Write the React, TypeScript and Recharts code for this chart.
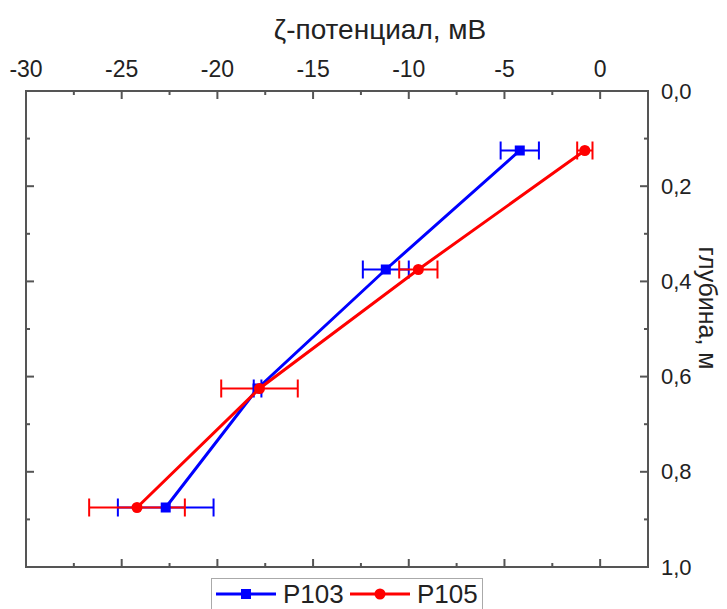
import React from 'react';
import { ScatterChart, Scatter, XAxis, YAxis, ErrorBar, ReferenceArea } from 'recharts';

// depth, m
const depths = [0.125, 0.375, 0.625, 0.875];

// zeta potential, mV
const p103Values = [-4.2, -11.2, -17.9, -22.7];
const p103Errors = [1.0, 1.2, 0.2, 2.5];
const p105Values = [-0.8, -9.5, -17.8, -24.2];
const p105Errors = [0.4, 1.0, 2.0, 2.5];

const seriesNames = ['P103', 'P105'];
const seriesColors = ['#0000ff', '#ff0000'];

const xTicks = [-30, -27.5, -25, -22.5, -20, -17.5, -15, -12.5, -10, -7.5, -5, -2.5, 0, 2.5];
const yTicks = [0, 0.1, 0.2, 0.3, 0.4, 0.5, 0.6, 0.7, 0.8, 0.9, 1.0];

const xTitle = 'ζ-потенциал, мВ';
const yTitle = 'глубина, м';

const W = 719;
const H = 601;
const PL = 18;
const PT = 83;
const PR = 640;
const PB = 559;
const FONT = '"Liberation Sans", Arial, sans-serif';
const FRAME = '#555';

const p103Data = depths.map((d, i) => ({ x: p103Values[i], y: d, err: p103Errors[i] }));
const p105Data = depths.map((d, i) => ({ x: p105Values[i], y: d, err: p105Errors[i] }));

const XTick = (props: any) => {
  const { x, payload } = props;
  const v = payload.value;
  const major = Math.abs(v % 5) < 1e-6;
  const len = major ? 8 : 4;
  return (
    <g>
      <line x1={x} x2={x} y1={PT} y2={PT + len} stroke={FRAME} strokeWidth={2} />
      <line x1={x} x2={x} y1={PB} y2={PB - len} stroke={FRAME} strokeWidth={2} />
      {major && (
        <text x={x} y={61} textAnchor="middle" dominantBaseline="central" fontSize={23} fontFamily={FONT} fill="#222">
          {v}
        </text>
      )}
    </g>
  );
};

const YTick = (props: any) => {
  const { y, payload } = props;
  const v = payload.value;
  const major = Math.round(v * 10) % 2 === 0;
  const len = major ? 8 : 4;
  return (
    <g>
      <line x1={PR} x2={PR - len} y1={y} y2={y} stroke={FRAME} strokeWidth={2} />
      <line x1={PL} x2={PL + len} y1={y} y2={y} stroke={FRAME} strokeWidth={2} />
      {major && (
        <text x={653} y={y} textAnchor="start" dominantBaseline="central" fontSize={22} fontFamily={FONT} fill="#222">
          {v.toFixed(1).replace('.', ',')}
        </text>
      )}
    </g>
  );
};

const Square = (props: any) => (
  <rect x={props.cx - 5} y={props.cy - 5} width={10} height={10} fill={seriesColors[0]} />
);

const Dot = (props: any) => <circle cx={props.cx} cy={props.cy} r={5.5} fill={seriesColors[1]} />;

const LegendBox = () => (
  <div
    style={{
      position: 'absolute',
      left: 203,
      top: 570,
      width: 272,
      height: 44,
      border: '1px solid #aaa',
      boxSizing: 'border-box',
      background: '#fff',
    }}
  >
    <svg width={270} height={42}>
      <line x1={4} x2={64} y1={15} y2={15} stroke={seriesColors[0]} strokeWidth={3} />
      <rect x={29} y={10} width={10} height={10} fill={seriesColors[0]} />
      <text x={71} y={15} dominantBaseline="central" fontSize={26} fontFamily={FONT} fill="#222">
        {seriesNames[0]}
      </text>
      <line x1={138} x2={198} y1={15} y2={15} stroke={seriesColors[1]} strokeWidth={3} />
      <circle cx={168} cy={15} r={5.5} fill={seriesColors[1]} />
      <text x={205} y={15} dominantBaseline="central" fontSize={26} fontFamily={FONT} fill="#222">
        {seriesNames[1]}
      </text>
    </svg>
  </div>
);

export default function App() {
  return (
    <div style={{ position: 'relative', width: W, height: H, overflow: 'visible', fontFamily: FONT }}>
      <ScatterChart width={W} height={H} margin={{ top: 33, right: 19, bottom: 42, left: 18 }}>
        <XAxis
          type="number"
          dataKey="x"
          orientation="top"
          height={50}
          domain={[-30, 2.5]}
          allowDataOverflow
          ticks={xTicks}
          interval={0}
          axisLine={false}
          tickLine={false}
          tick={<XTick />}
        />
        <YAxis
          type="number"
          dataKey="y"
          orientation="right"
          width={60}
          domain={[0, 1]}
          reversed
          allowDataOverflow
          ticks={yTicks}
          interval={0}
          axisLine={false}
          tickLine={false}
          tick={<YTick />}
        />
        <ReferenceArea x1={-30} x2={2.5} y1={0} y2={1} fill="none" stroke={FRAME} strokeWidth={2} />
        <Scatter
          name={seriesNames[0]}
          data={p103Data}
          fill={seriesColors[0]}
          line={{ stroke: seriesColors[0], strokeWidth: 3 }}
          shape={Square}
          isAnimationActive={false}
        >
          <ErrorBar dataKey="err" direction="x" width={9} stroke={seriesColors[0]} strokeWidth={2} />
        </Scatter>
        <Scatter
          name={seriesNames[1]}
          data={p105Data}
          fill={seriesColors[1]}
          line={{ stroke: seriesColors[1], strokeWidth: 3 }}
          shape={Dot}
          isAnimationActive={false}
        >
          <ErrorBar dataKey="err" direction="x" width={9} stroke={seriesColors[1]} strokeWidth={2} />
        </Scatter>
      </ScatterChart>
      <div
        style={{
          position: 'absolute',
          left: 372,
          top: 22,
          transform: 'translate(-50%, -50%)',
          fontSize: 28,
          color: '#222',
          whiteSpace: 'nowrap',
        }}
      >
        {xTitle}
      </div>
      <div
        style={{
          position: 'absolute',
          left: 700,
          top: 300,
          transform: 'translate(-50%, -50%) rotate(90deg)',
          fontSize: 25,
          lineHeight: '28px',
          color: '#222',
          whiteSpace: 'nowrap',
        }}
      >
        {yTitle}
      </div>
      <LegendBox />
    </div>
  );
}
